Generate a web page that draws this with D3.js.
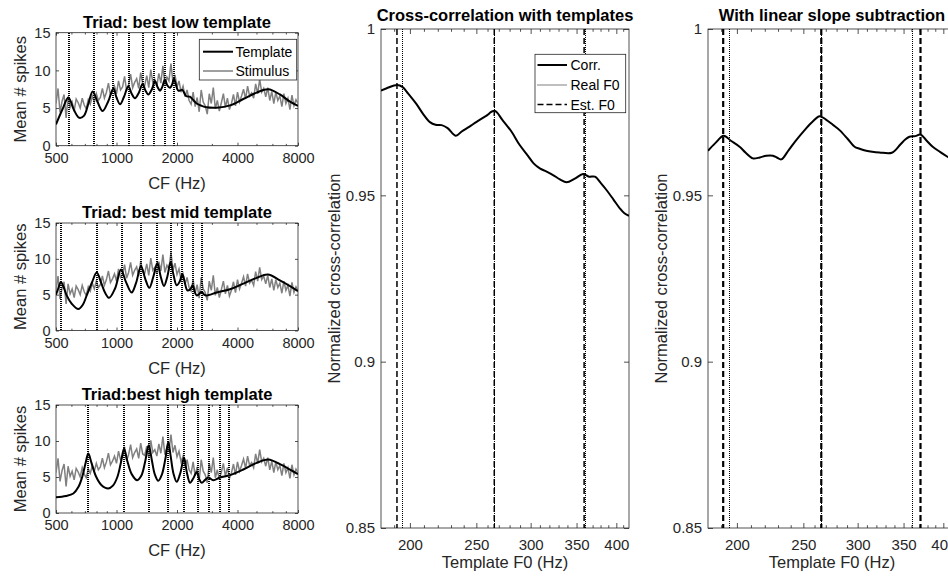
<!DOCTYPE html>
<html>
<head>
<meta charset="utf-8">
<script src="https://cdn.jsdelivr.net/npm/d3@7"></script>
<style>
  body { margin: 0; background: #fff; }
  svg { font-family: "Liberation Sans", Arial, Helvetica, sans-serif; }
</style>
</head>
<body>
<div id="chart"></div>
<script>
// ---- data ----
const cfTicks = [500, 1000, 2000, 4000, 8000];
const cfMinor = [600, 700, 800, 900, 3000, 5000, 6000, 7000];
const spikeTicks = [0, 5, 10, 15];
const f0Ticks = [200, 250, 300, 350, 400];
const f0Minor = [190, 210, 220, 230, 240, 260, 270, 280, 290, 310, 320, 330, 340, 360, 370, 380, 390, 410];
const corrTicks = [0.85, 0.9, 0.95, 1];

// stimulus response, 121 channels log spaced 500..8000 Hz (30 per octave)
const stimulus = [5.6, 7.6, 4.4, 5.9, 6.8, 3.7, 6.5, 5.1, 5.8, 4.6,
  6.2, 5.7, 5.0, 6.3, 5.4, 4.9, 6.1, 5.5, 6.6, 5.8,
  6.9, 6.0, 6.4, 7.6, 6.3, 7.1, 8.3, 6.7, 7.2, 7.9,
  6.9, 8.6, 7.4, 7.8, 9.2, 7.3, 8.1, 9.5, 7.7, 8.4,
  8.9, 7.6, 9.7, 8.2, 8.0, 9.3, 7.7, 10.1, 8.4, 8.8,
  7.9, 9.6, 8.3, 10.6, 8.1, 9.1, 8.6, 10.9, 8.4, 9.4,
  7.8, 8.6, 7.1, 7.9, 6.5, 7.4, 6.0, 5.5, 7.1, 5.2,
  6.4, 4.5, 7.4, 5.8, 5.3, 4.2, 6.9, 5.6, 7.7, 4.9,
  6.0, 4.6, 5.7, 6.9, 5.1, 6.3, 4.8, 5.6, 6.8, 5.3,
  7.1, 5.8, 6.6, 7.5, 6.2, 7.9, 6.6, 7.0, 6.3, 8.2,
  6.9, 8.8, 7.1, 7.6, 6.5, 7.7, 6.0, 7.2, 5.6, 7.1,
  6.0, 6.6, 5.2, 6.9, 5.6, 6.3, 4.8, 6.7, 5.3, 6.1, 5.6];
const cfGrid = d3.range(stimulus.length).map(i => 500 * Math.pow(2, i / 30));

const templateLow = [[500, 2.83], [540, 4.9], [576, 6.4], [615, 4.7], [653, 3.7], [690, 4.0], [725, 5.6], [761, 7.2],
  [805, 5.8], [853, 4.6], [910, 5.9], [965, 7.6], [1000, 6.4], [1041, 5.5], [1090, 6.5], [1145, 7.9], [1190, 6.9],
  [1236, 6.3], [1290, 7.0], [1348, 8.2], [1395, 7.3], [1440, 6.8], [1500, 7.5], [1554, 8.6], [1600, 7.8], [1646, 7.3],
  [1690, 7.8], [1741, 8.8], [1790, 8.0], [1846, 7.7], [1890, 8.1], [1932, 8.9], [1980, 8.0], [2030, 7.3], [2124, 7.4],
  [2220, 6.6], [2316, 6.5], [2420, 6.0], [2506, 5.6], [2650, 5.3], [2809, 5.1], [3150, 5.05], [3671, 5.35],
  [4275, 6.2], [4982, 7.05], [5694, 7.5], [6500, 6.8], [7300, 5.85], [8000, 5.3]];
const templateMid = [[500, 5.0], [515, 6.0], [529, 6.78], [545, 6.1], [565, 4.9], [600, 3.7], [646, 2.99], [680, 3.6],
  [711, 4.9], [755, 6.7], [797, 8.08], [840, 6.6], [880, 5.2], [920, 4.56], [985, 5.9], [1053, 8.5], [1110, 6.9],
  [1189, 5.3], [1250, 6.6], [1324, 8.96], [1390, 7.2], [1456, 5.95], [1525, 7.5], [1596, 9.42], [1660, 7.5],
  [1723, 6.2], [1790, 7.5], [1859, 9.55], [1920, 7.8], [1993, 6.3], [2060, 6.8], [2126, 7.85], [2190, 6.6],
  [2250, 5.6], [2320, 5.7], [2395, 6.3], [2450, 5.4], [2505, 4.9], [2580, 5.1], [2654, 5.4], [2730, 5.0],
  [2809, 4.9], [3151, 5.3], [3671, 5.76], [4275, 6.55], [4982, 7.34], [5660, 7.8], [6500, 7.0], [7300, 6.2], [8000, 5.5]];
const templateHigh = [[500, 2.17], [560, 2.35], [610, 2.7], [646, 3.6], [675, 5.0], [700, 6.8], [724, 8.25], [750, 7.0],
  [790, 5.1], [840, 3.9], [910, 3.41], [960, 3.8], [1010, 5.0], [1050, 6.9], [1090, 8.94], [1130, 7.3], [1190, 5.4],
  [1269, 4.56], [1330, 5.2], [1390, 7.2], [1446, 9.4], [1500, 7.3], [1550, 5.4], [1614, 4.47], [1680, 5.3],
  [1750, 7.5], [1810, 9.87], [1860, 7.9], [1920, 5.5], [1993, 4.33], [2080, 5.6], [2167, 7.7], [2240, 5.6],
  [2322, 4.2], [2420, 4.9], [2506, 5.7], [2580, 4.7], [2656, 4.2], [2760, 4.6], [2864, 4.93], [3031, 4.56],
  [3271, 4.93], [3671, 5.26], [4275, 6.04], [4982, 6.96], [5694, 7.42], [6500, 6.78], [7300, 6.04], [8000, 5.4]];

const harmonicsLow = [579, 772, 965, 1158, 1351, 1544, 1737, 1930];
const harmonicsMid = [531, 797, 1062, 1328, 1593, 1859, 2124, 2390, 2655];
const harmonicsHigh = [724, 1086, 1448, 1810, 2172, 2534, 2896, 3258, 3620];

const corrF0 = [181.5, 185, 191.7, 195, 199, 204.5, 209, 213.9, 218, 222.5, 227, 233.4, 238, 244, 250.2, 258, 265.7,
  273, 281.4, 289, 297.5, 303, 309.4, 316, 323.4, 331, 338.4, 348, 357.7, 365, 372.2, 380, 387, 396, 404.7, 411, 417.4];
const corrValues = [0.9815, 0.9822, 0.9832, 0.9826, 0.9805, 0.9774, 0.9745, 0.9720, 0.9712, 0.9711, 0.9702, 0.9679,
  0.9692, 0.9706, 0.9721, 0.9738, 0.9754, 0.9726, 0.9691, 0.9652, 0.9618, 0.9596, 0.9581, 0.9572, 0.9561, 0.9548,
  0.9539, 0.9550, 0.9564, 0.9556, 0.9556, 0.9536, 0.9516, 0.9488, 0.9461, 0.9446, 0.9438];

const slopeF0 = [181.5, 186, 191.3, 196, 201.8, 206, 211, 216, 220.7, 225.7, 229, 232.1, 238, 244.1, 252, 258, 264,
  270, 276, 282.3, 290, 296.9, 302, 308.8, 315, 322.8, 336.5, 346, 352, 357, 364, 370.4, 378, 386, 396, 405.6, 417.4];
const slopeValues = [0.9634, 0.9657, 0.9679, 0.9664, 0.9646, 0.9628, 0.9611, 0.9614, 0.9619, 0.9619, 0.9613, 0.9608,
  0.9636, 0.9666, 0.9700, 0.9722, 0.9738, 0.9727, 0.9712, 0.9696, 0.9670, 0.9646, 0.9640, 0.9634, 0.9631, 0.9629,
  0.9628, 0.9652, 0.9668, 0.9676, 0.9678, 0.9683, 0.9665, 0.9646, 0.9630, 0.9616, 0.9600];

const realF0 = [194.5, 265.5, 359.5];
const estF0 = [191.5, 265.5, 359];
const estF0Slope = [191, 265.5, 370.5];

// ---- drawing ----
const W = 948, H = 578;
const ink = "#262626";
const svg = d3.select("#chart").append("svg").attr("width", W).attr("height", H);
const defs = svg.append("defs");
let clipId = 0;

function styleAxis(sel, fs) {
  sel.select(".domain").remove();
  sel.selectAll(".tick line").attr("stroke", ink).attr("stroke-width", 0.8);
  sel.selectAll(".tick text").attr("fill", ink).style("font-size", fs + "px");
}

function frame(x, y, o) {
  const [x0, x1] = x.range(), [yb, yt] = y.range();
  svg.append("g").attr("transform", `translate(0,${yb})`)
    .call(d3.axisBottom(x).tickValues(o.xTicks).tickFormat(d => d).tickSize(-o.tick).tickPadding(o.xPad))
    .call(s => styleAxis(s, o.fs));
  svg.append("g").attr("transform", `translate(0,${yt})`)
    .call(d3.axisTop(x).tickValues(o.xTicks).tickFormat("").tickSize(-o.tick))
    .call(s => styleAxis(s, o.fs));
  svg.append("g").attr("transform", `translate(${x0},0)`)
    .call(d3.axisLeft(y).tickValues(o.yTicks).tickFormat(d => d).tickSize(-o.tick).tickPadding(o.yPad))
    .call(s => styleAxis(s, o.fs));
  svg.append("g").attr("transform", `translate(${x1},0)`)
    .call(d3.axisRight(y).tickValues(o.yTicks).tickFormat("").tickSize(-o.tick))
    .call(s => styleAxis(s, o.fs));
  const minor = svg.append("g").attr("stroke", ink).attr("stroke-width", 0.8);
  o.minor.forEach(m => {
    const px = x(m);
    if (px <= x0 || px >= x1) return;
    minor.append("line").attr("x1", px).attr("x2", px).attr("y1", yb).attr("y2", yb - o.minorTick);
    minor.append("line").attr("x1", px).attr("x2", px).attr("y1", yt).attr("y2", yt + o.minorTick);
  });
  svg.append("rect").attr("x", x0).attr("y", yt).attr("width", x1 - x0).attr("height", yb - yt)
    .attr("fill", "none").attr("stroke", ink).attr("stroke-width", 0.8);
  const id = "clip" + (clipId++);
  defs.append("clipPath").attr("id", id).append("rect")
    .attr("x", x0).attr("y", yt).attr("width", x1 - x0).attr("height", yb - yt);
  return svg.append("g").attr("clip-path", `url(#${id})`);
}

// left column
const leftPanels = [
  { title: "Triad: best low template", top: 32.7, bottom: 145.7, tpl: templateLow, harm: harmonicsLow, legend: true },
  { title: "Triad: best mid template", top: 223, bottom: 330.5, tpl: templateMid, harm: harmonicsMid },
  { title: "Triad:best high template", top: 405, bottom: 513, tpl: templateHigh, harm: harmonicsHigh }
];

leftPanels.forEach(p => {
  const x = d3.scaleLog().domain([500, 8000]).range([56, 298]);
  const y = d3.scaleLinear().domain([0, 15]).range([p.bottom, p.top]);
  const plot = frame(x, y, { xTicks: cfTicks, yTicks: spikeTicks, minor: cfMinor, tick: 3, minorTick: 1.8,
    xPad: 7, yPad: 5.5, fs: 14.5 });

  plot.append("path").datum(stimulus)
    .attr("d", d3.line().x((d, i) => x(cfGrid[i])).y(d => y(d)))
    .attr("fill", "none").attr("stroke", "#808080").attr("stroke-width", 1.5);
  plot.append("path").datum(p.tpl)
    .attr("d", d3.line().x(d => x(d[0])).y(d => y(d[1])).curve(d3.curveCatmullRom.alpha(0.5)))
    .attr("fill", "none").attr("stroke", "#000").attr("stroke-width", 2);
  plot.selectAll(".harm").data(p.harm).enter().append("line")
    .attr("x1", d => Math.round(x(d))).attr("x2", d => Math.round(x(d))).attr("y1", Math.round(p.top)).attr("y2", p.bottom)
    .attr("stroke", "#000").attr("stroke-width", 2).attr("stroke-dasharray", "1,1")
    .attr("shape-rendering", "crispEdges");

  svg.append("text").attr("x", 177).attr("y", p.top - 4.8).attr("text-anchor", "middle")
    .style("font-size", "16.5px").style("font-weight", "bold").attr("fill", "#000").text(p.title);
  svg.append("text").attr("x", 177).attr("y", p.bottom + 43).attr("text-anchor", "middle")
    .style("font-size", "16.5px").attr("fill", ink).text("CF (Hz)");
  svg.append("text").attr("transform", `translate(26,${(p.top + p.bottom) / 2}) rotate(-90)`)
    .attr("text-anchor", "middle").style("font-size", "16.5px").attr("fill", ink).text("Mean # spikes");

  if (p.legend) {
    const lg = svg.append("g");
    lg.append("rect").attr("x", 199.3).attr("y", 39.3).attr("width", 97.4).attr("height", 40.7)
      .attr("fill", "#fff").attr("stroke", ink).attr("stroke-width", 0.8);
    [["Template", "#000", 2, 51.7], ["Stimulus", "#808080", 1.5, 71]].forEach(([t, c, w, yy]) => {
      lg.append("line").attr("x1", 203).attr("x2", 233).attr("y1", yy).attr("y2", yy)
        .attr("stroke", c).attr("stroke-width", w);
      lg.append("text").attr("x", 235.5).attr("y", yy + 5).style("font-size", "14px").attr("fill", "#000").text(t);
    });
  }
});

// correlation panels
const corrPanels = [
  { title: "Cross-correlation with templates", x0: 381, f0: corrF0, vals: corrValues, est: estF0,
    estWidth: 1.5, legend: true },
  { title: "With linear slope subtraction", x0: 708, f0: slopeF0, vals: slopeValues, est: estF0Slope,
    estWidth: 2.2 }
];

corrPanels.forEach(p => {
  const x = d3.scaleLog().domain([181.5, 417.4]).range([p.x0, p.x0 + 248]);
  const y = d3.scaleLinear().domain([0.85, 1]).range([528, 29]);
  const plot = frame(x, y, { xTicks: f0Ticks, yTicks: corrTicks, minor: f0Minor, tick: 5, minorTick: 2.8,
    xPad: 11.3, yPad: 6, fs: 15 });

  plot.selectAll(".est").data(p.est).enter().append("line")
    .attr("x1", d => x(d)).attr("x2", d => x(d)).attr("y1", 29).attr("y2", 528)
    .attr("stroke", "#000").attr("stroke-width", p.estWidth).attr("stroke-dasharray", "6,3");
  plot.selectAll(".real").data(realF0).enter().append("line")
    .attr("x1", d => Math.round(x(d)) + 0.5).attr("x2", d => Math.round(x(d)) + 0.5).attr("y1", 29).attr("y2", 528)
    .attr("stroke", "#000").attr("stroke-width", 1).attr("stroke-dasharray", "1,1")
    .attr("shape-rendering", "crispEdges");
  plot.append("path").datum(p.f0.map((f, i) => [f, p.vals[i]]))
    .attr("d", d3.line().x(d => x(d[0])).y(d => y(d[1])).curve(d3.curveCatmullRom.alpha(0.5)))
    .attr("fill", "none").attr("stroke", "#000").attr("stroke-width", 2);

  const cx = p.x0 + 124;
  svg.append("text").attr("x", cx).attr("y", 21).attr("text-anchor", "middle")
    .style("font-size", "16.5px").style("font-weight", "bold").attr("fill", "#000").text(p.title);
  svg.append("text").attr("x", cx).attr("y", 568).attr("text-anchor", "middle")
    .style("font-size", "16.5px").attr("fill", ink).text("Template F0 (Hz)");
  svg.append("text").attr("transform", `translate(${p.x0 - 41.5},278.5) rotate(-90)`)
    .attr("text-anchor", "middle").style("font-size", "16.5px").attr("fill", ink).text("Normalized cross-correlation");

  if (p.legend) {
    const lg = svg.append("g");
    lg.append("rect").attr("x", 535).attr("y", 54.3).attr("width", 90.7).attr("height", 58.4)
      .attr("fill", "#fff").attr("stroke", ink).attr("stroke-width", 0.8);
    [["Corr.", 2, null, 65], ["Real F0", 1.2, "1,1", 85], ["Est. F0", 1.5, "6,3", 104.5]].forEach(([t, w, dash, yy]) => {
      lg.append("line").attr("x1", 537.5).attr("x2", 567).attr("y1", yy).attr("y2", yy)
        .attr("stroke", "#000").attr("stroke-width", w).attr("stroke-dasharray", dash);
      lg.append("text").attr("x", 570.5).attr("y", yy + 5).style("font-size", "14px").attr("fill", "#000").text(t);
    });
  }
});
</script>
</body>
</html>
